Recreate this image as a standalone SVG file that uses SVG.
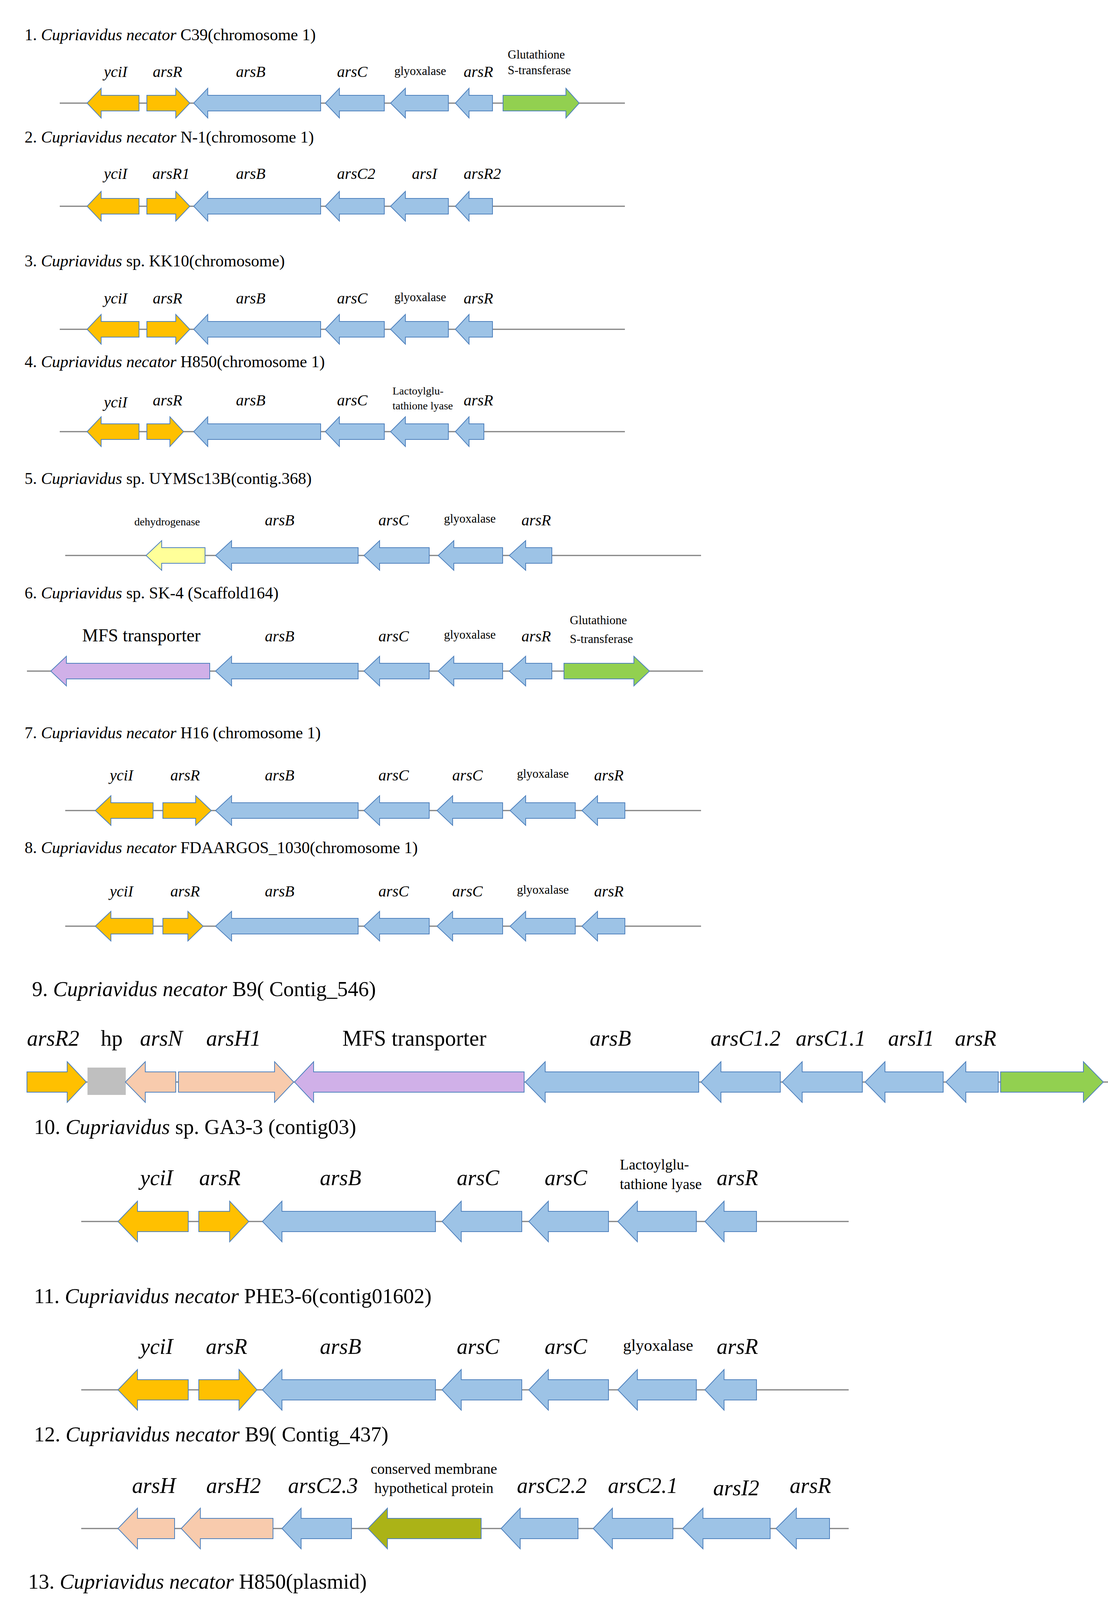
<svg xmlns="http://www.w3.org/2000/svg" width="2837" height="5066" viewBox="0 0 2837 5066">
<style>
text{font-family:"Liberation Serif","Times New Roman",serif;fill:#000}
.t{font-size:42px}.T{font-size:54px}
.i{font-style:italic}
.g{font-size:40px;font-style:italic;text-anchor:middle}
.G{font-size:56px;font-style:italic;text-anchor:middle}
.s{font-size:31px}.S{font-size:42px}
.m{text-anchor:middle}
polygon,rect{stroke:#4F81BD;stroke-width:2}
.o{fill:#FFC000}.b{fill:#9DC3E6}.gr{fill:#92D050}.p{fill:#F8CBAD}.v{fill:#D0B0E8}.y{fill:#FFFF99}.h{fill:#BFBFBF;stroke:#BFBFBF}.r{fill:#D22B5C}.ol{fill:#ABB317}.c{fill:#33F0F0}.cg{fill:#BFC3C5}
.ln{stroke:#808080;stroke-width:3;fill:none}
</style>
<g id="connectors">
<line class="ln" x1="153" y1="264" x2="1600" y2="264"/>
<line class="ln" x1="153" y1="528" x2="1600" y2="528"/>
<line class="ln" x1="153" y1="843" x2="1600" y2="843"/>
<line class="ln" x1="153" y1="1105" x2="1600" y2="1105"/>
<line class="ln" x1="167" y1="1422" x2="1795" y2="1422"/>
<line class="ln" x1="69" y1="1718" x2="1800" y2="1718"/>
<line class="ln" x1="167" y1="2075" x2="1795" y2="2075"/>
<line class="ln" x1="167" y1="2371" x2="1795" y2="2371"/>
<line class="ln" x1="69" y1="2770" x2="2837" y2="2770"/>
<line class="ln" x1="208" y1="3127" x2="2173" y2="3127"/>
<line class="ln" x1="208" y1="3558" x2="2173" y2="3558"/>
<line class="ln" x1="208" y1="3913" x2="2173" y2="3913"/>
<line class="ln" x1="54" y1="4270" x2="2596" y2="4270"/>
<line class="ln" x1="45" y1="4597" x2="2656" y2="4597"/>
<line class="ln" x1="181" y1="4995" x2="2405" y2="4995"/>
</g>

<g id="row1" transform="translate(0,264)">
<text class="t" x="63" y="-161">1. <tspan class="i">Cupriavidus necator</tspan> C39(chromosome 1)</text>
<g id="r1-yciI"><polygon class="o" points="223,0 259,-38 259,-20 356,-20 356,20 259,20 259,38"/><text class="g" x="296" y="-67">yciI</text></g>
<g id="r1-arsR"><polygon class="o" points="376,-20 450,-20 450,-38 486,0 450,38 450,20 376,20"/><text class="g" x="429" y="-67">arsR</text></g>
<g id="r1-arsB"><polygon class="b" points="496,0 532,-38 532,-20 821,-20 821,20 532,20 532,38"/><text class="g" x="642" y="-67">arsB</text></g>
<g id="r1-arsC"><polygon class="b" points="833,0 869,-38 869,-20 984,-20 984,20 869,20 869,38"/><text class="g" x="902" y="-67">arsC</text></g>
<g id="r1-glx"><polygon class="b" points="1000,0 1038,-38 1038,-20 1148,-20 1148,20 1038,20 1038,38"/><text class="s m" x="1076" y="-72">glyoxalase</text></g>
<g id="r1-arsR2"><polygon class="b" points="1166,0 1201,-38 1201,-20 1261,-20 1261,20 1201,20 1201,38"/><text class="g" x="1225" y="-67">arsR</text></g>
<g id="r1-gst"><polygon class="gr" points="1288,-20 1449,-20 1449,-38 1483,0 1449,38 1449,20 1288,20"/><text class="s" x="1300" y="-114">Glutathione</text><text class="s" x="1300" y="-74">S-transferase</text></g>
</g>

<g id="row2" transform="translate(0,528)">
<text class="t" x="63" y="-163">2. <tspan class="i">Cupriavidus necator</tspan> N-1(chromosome 1)</text>
<g id="r2-yciI"><polygon class="o" points="223,0 259,-38 259,-20 356,-20 356,20 259,20 259,38"/><text class="g" x="296" y="-70">yciI</text></g>
<g id="r2-arsR1"><polygon class="o" points="376,-20 450,-20 450,-38 486,0 450,38 450,20 376,20"/><text class="g" x="438" y="-70">arsR1</text></g>
<g id="r2-arsB"><polygon class="b" points="496,0 532,-38 532,-20 821,-20 821,20 532,20 532,38"/><text class="g" x="642" y="-70">arsB</text></g>
<g id="r2-arsC2"><polygon class="b" points="833,0 869,-38 869,-20 984,-20 984,20 869,20 869,38"/><text class="g" x="912" y="-70">arsC2</text></g>
<g id="r2-arsI"><polygon class="b" points="1000,0 1038,-38 1038,-20 1148,-20 1148,20 1038,20 1038,38"/><text class="g" x="1087" y="-70">arsI</text></g>
<g id="r2-arsR2"><polygon class="b" points="1166,0 1201,-38 1201,-20 1261,-20 1261,20 1201,20 1201,38"/><text class="g" x="1235" y="-70">arsR2</text></g>
</g>

<g id="row3" transform="translate(0,843)">
<text class="t" x="63" y="-161">3. <tspan class="i">Cupriavidus</tspan> sp. KK10(chromosome)</text>
<g id="r3-yciI"><polygon class="o" points="223,0 259,-38 259,-20 356,-20 356,20 259,20 259,38"/><text class="g" x="296" y="-66">yciI</text></g>
<g id="r3-arsR"><polygon class="o" points="376,-20 450,-20 450,-38 486,0 450,38 450,20 376,20"/><text class="g" x="429" y="-66">arsR</text></g>
<g id="r3-arsB"><polygon class="b" points="496,0 532,-38 532,-20 821,-20 821,20 532,20 532,38"/><text class="g" x="642" y="-66">arsB</text></g>
<g id="r3-arsC"><polygon class="b" points="833,0 869,-38 869,-20 984,-20 984,20 869,20 869,38"/><text class="g" x="902" y="-66">arsC</text></g>
<g id="r3-glx"><polygon class="b" points="1000,0 1038,-38 1038,-20 1148,-20 1148,20 1038,20 1038,38"/><text class="s m" x="1076" y="-72">glyoxalase</text></g>
<g id="r3-arsR2"><polygon class="b" points="1166,0 1201,-38 1201,-20 1261,-20 1261,20 1201,20 1201,38"/><text class="g" x="1225" y="-66">arsR</text></g>
</g>

<g id="row4" transform="translate(0,1105)">
<text class="t" x="63" y="-165">4. <tspan class="i">Cupriavidus necator</tspan> H850(chromosome 1)</text>
<g id="r4-yciI"><polygon class="o" points="223,0 259,-38 259,-20 356,-20 356,20 259,20 259,38"/><text class="g" x="296" y="-62">yciI</text></g>
<g id="r4-arsR"><polygon class="o" points="376,-20 435,-20 435,-38 470,0 435,38 435,20 376,20"/><text class="g" x="429" y="-67">arsR</text></g>
<g id="r4-arsB"><polygon class="b" points="496,0 532,-38 532,-20 821,-20 821,20 532,20 532,38"/><text class="g" x="642" y="-67">arsB</text></g>
<g id="r4-arsC"><polygon class="b" points="833,0 869,-38 869,-20 984,-20 984,20 869,20 869,38"/><text class="g" x="902" y="-67">arsC</text></g>
<g id="r4-lact"><polygon class="b" points="1000,0 1038,-38 1038,-20 1148,-20 1148,20 1038,20 1038,38"/><text class="s" x="1005" y="-95" style="font-size:28px">Lactoylglu-</text><text class="s" x="1005" y="-57" style="font-size:28px">tathione lyase</text></g>
<g id="r4-arsR2"><polygon class="b" points="1166,0 1201,-38 1201,-20 1239,-20 1239,20 1201,20 1201,38"/><text class="g" x="1225" y="-67">arsR</text></g>
</g>

<g id="row5" transform="translate(0,1422)">
<text class="t" x="63" y="-183">5. <tspan class="i">Cupriavidus</tspan> sp. UYMSc13B(contig.368)</text>
<g id="r5-dh"><polygon class="y" points="374,0 414,-38 414,-20 525,-20 525,20 414,20 414,38"/><text class="s m" x="428" y="-77" style="font-size:28px">dehydrogenase</text></g>
<g id="r5-arsB"><polygon class="b" points="552,0 593,-38 593,-20 917,-20 917,20 593,20 593,38"/><text class="g" x="716" y="-77">arsB</text></g>
<g id="r5-arsC"><polygon class="b" points="932,0 972,-38 972,-20 1099,-20 1099,20 972,20 972,38"/><text class="g" x="1008" y="-77">arsC</text></g>
<g id="r5-glx"><polygon class="b" points="1122,0 1162,-38 1162,-20 1287,-20 1287,20 1162,20 1162,38"/><text class="s m" x="1203" y="-84">glyoxalase</text></g>
<g id="r5-arsR"><polygon class="b" points="1304,0 1346,-38 1346,-20 1413,-20 1413,20 1346,20 1346,38"/><text class="g" x="1373" y="-77">arsR</text></g>
</g>

<g id="row6" transform="translate(0,1718)">
<text class="t" x="63" y="-186">6. <tspan class="i">Cupriavidus</tspan> sp. SK-4 (Scaffold164)</text>
<g id="r6-mfs"><polygon class="v" points="130,0 170,-38 170,-20 537,-20 537,20 170,20 170,38"/><text class="m" x="362" y="-76" style="font-size:46px">MFS transporter</text></g>
<g id="r6-arsB"><polygon class="b" points="552,0 593,-38 593,-20 917,-20 917,20 593,20 593,38"/><text class="g" x="716" y="-76">arsB</text></g>
<g id="r6-arsC"><polygon class="b" points="932,0 972,-38 972,-20 1099,-20 1099,20 972,20 972,38"/><text class="g" x="1008" y="-76">arsC</text></g>
<g id="r6-glx"><polygon class="b" points="1122,0 1162,-38 1162,-20 1287,-20 1287,20 1162,20 1162,38"/><text class="s m" x="1203" y="-83">glyoxalase</text></g>
<g id="r6-arsR"><polygon class="b" points="1304,0 1346,-38 1346,-20 1413,-20 1413,20 1346,20 1346,38"/><text class="g" x="1373" y="-76">arsR</text></g>
<g id="r6-gst"><polygon class="gr" points="1444,-20 1623,-20 1623,-38 1663,0 1623,38 1623,20 1444,20"/><text class="s" x="1459" y="-120">Glutathione</text><text class="s" x="1459" y="-72">S-transferase</text></g>
</g>

<g id="row7" transform="translate(0,2075)">
<text class="t" x="63" y="-185">7. <tspan class="i">Cupriavidus necator</tspan> H16 (chromosome 1)</text>
<g id="r7-yciI"><polygon class="o" points="244,0 284,-38 284,-20 392,-20 392,20 284,20 284,38"/><text class="g" x="311" y="-77">yciI</text></g>
<g id="r7-arsR"><polygon class="o" points="417,-20 501,-20 501,-38 541,0 501,38 501,20 417,20"/><text class="g" x="474" y="-77">arsR</text></g>
<g id="r7-arsB"><polygon class="b" points="552,0 593,-38 593,-20 917,-20 917,20 593,20 593,38"/><text class="g" x="716" y="-77">arsB</text></g>
<g id="r7-arsC"><polygon class="b" points="932,0 972,-38 972,-20 1099,-20 1099,20 972,20 972,38"/><text class="g" x="1008" y="-77">arsC</text></g>
<g id="r7-arsC2"><polygon class="b" points="1119,0 1159,-38 1159,-20 1287,-20 1287,20 1159,20 1159,38"/><text class="g" x="1197" y="-77">arsC</text></g>
<g id="r7-glx"><polygon class="b" points="1306,0 1346,-38 1346,-20 1473,-20 1473,20 1346,20 1346,38"/><text class="s m" x="1390" y="-84">glyoxalase</text></g>
<g id="r7-arsR2"><polygon class="b" points="1490,0 1530,-38 1530,-20 1600,-20 1600,20 1530,20 1530,38"/><text class="g" x="1559" y="-77">arsR</text></g>
</g>

<g id="row8" transform="translate(0,2371)">
<text class="t" x="63" y="-187">8. <tspan class="i">Cupriavidus necator</tspan> FDAARGOS_1030(chromosome 1)</text>
<g id="r8-yciI"><polygon class="o" points="244,0 284,-38 284,-20 392,-20 392,20 284,20 284,38"/><text class="g" x="311" y="-76">yciI</text></g>
<g id="r8-arsR"><polygon class="o" points="417,-20 481,-20 481,-38 520,0 481,38 481,20 417,20"/><text class="g" x="474" y="-76">arsR</text></g>
<g id="r8-arsB"><polygon class="b" points="552,0 593,-38 593,-20 917,-20 917,20 593,20 593,38"/><text class="g" x="716" y="-76">arsB</text></g>
<g id="r8-arsC"><polygon class="b" points="932,0 972,-38 972,-20 1099,-20 1099,20 972,20 972,38"/><text class="g" x="1008" y="-76">arsC</text></g>
<g id="r8-arsC2"><polygon class="b" points="1119,0 1159,-38 1159,-20 1287,-20 1287,20 1159,20 1159,38"/><text class="g" x="1197" y="-76">arsC</text></g>
<g id="r8-glx"><polygon class="b" points="1306,0 1346,-38 1346,-20 1473,-20 1473,20 1346,20 1346,38"/><text class="s m" x="1390" y="-83">glyoxalase</text></g>
<g id="r8-arsR2"><polygon class="b" points="1490,0 1530,-38 1530,-20 1600,-20 1600,20 1530,20 1530,38"/><text class="g" x="1559" y="-76">arsR</text></g>
</g>

<g id="row9" transform="translate(0,2770)">
<text class="T" x="82" y="-220">9. <tspan class="i">Cupriavidus necator</tspan> B9( Contig_546)</text>
<g id="r9-arsR2"><polygon class="o" points="69,-26 172,-26 172,-52 221,0 172,52 172,26 69,26"/><text class="G" x="136" y="-93">arsR2</text></g>
<g id="r9-hp"><rect class="h" x="225" y="-36" width="96" height="68"/><text class="m" x="286" y="-93" style="font-size:56px">hp</text></g>
<g id="r9-arsN"><polygon class="p" points="321,0 372,-52 372,-26 450,-26 450,26 372,26 372,52"/><text class="G" x="413" y="-93">arsN</text></g>
<g id="r9-arsH1"><polygon class="p" points="457,-26 703,-26 703,-52 752,0 703,52 703,26 457,26"/><text class="G" x="598" y="-93">arsH1</text></g>
<g id="r9-mfs"><polygon class="v" points="754,0 803,-52 803,-26 1342,-26 1342,26 803,26 803,52"/><text class="m" x="1061" y="-93" style="font-size:56px">MFS transporter</text></g>
<g id="r9-arsB"><polygon class="b" points="1345,0 1396,-52 1396,-26 1789,-26 1789,26 1396,26 1396,52"/><text class="G" x="1563" y="-93">arsB</text></g>
<g id="r9-arsC12"><polygon class="b" points="1795,0 1846,-52 1846,-26 1998,-26 1998,26 1846,26 1846,52"/><text class="G" x="1909" y="-93">arsC1.2</text></g>
<g id="r9-arsC11"><polygon class="b" points="2003,0 2054,-52 2054,-26 2208,-26 2208,26 2054,26 2054,52"/><text class="G" x="2127" y="-93">arsC1.1</text></g>
<g id="r9-arsI1"><polygon class="b" points="2215,0 2266,-52 2266,-26 2415,-26 2415,26 2266,26 2266,52"/><text class="G" x="2333" y="-93">arsI1</text></g>
<g id="r9-arsR"><polygon class="b" points="2422,0 2473,-52 2473,-26 2556,-26 2556,26 2473,26 2473,52"/><text class="G" x="2498" y="-93">arsR</text></g>
<g id="r9-green"><polygon class="gr" points="2562,-26 2774,-26 2774,-52 2825,0 2774,52 2774,26 2562,26"/></g>
</g>

<g id="row10" transform="translate(0,3127)">
<text class="T" x="87" y="-224">10. <tspan class="i">Cupriavidus</tspan> sp. GA3-3 (contig03)</text>
<g id="r10-yciI"><polygon class="o" points="302,0 352,-52 352,-26 482,-26 482,26 352,26 352,52"/><text class="G" x="401" y="-93">yciI</text></g>
<g id="r10-arsR"><polygon class="o" points="509,-26 588,-26 588,-52 637,0 588,52 588,26 509,26"/><text class="G" x="563" y="-93">arsR</text></g>
<g id="r10-arsB"><polygon class="b" points="672,0 722,-52 722,-26 1115,-26 1115,26 722,26 722,52"/><text class="G" x="872" y="-93">arsB</text></g>
<g id="r10-arsC"><polygon class="b" points="1132,0 1181,-52 1181,-26 1336,-26 1336,26 1181,26 1181,52"/><text class="G" x="1224" y="-93">arsC</text></g>
<g id="r10-arsC2"><polygon class="b" points="1354,0 1404,-52 1404,-26 1558,-26 1558,26 1404,26 1404,52"/><text class="G" x="1449" y="-93">arsC</text></g>
<g id="r10-lact"><polygon class="b" points="1582,0 1632,-52 1632,-26 1783,-26 1783,26 1632,26 1632,52"/><text class="S" x="1587" y="-133" style="font-size:38px">Lactoylglu-</text><text class="S" x="1587" y="-83" style="font-size:38px">tathione lyase</text></g>
<g id="r10-arsR2"><polygon class="b" points="1805,0 1854,-52 1854,-26 1937,-26 1937,26 1854,26 1854,52"/><text class="G" x="1888" y="-93">arsR</text></g>
</g>

<g id="row11" transform="translate(0,3558)">
<text class="T" x="87" y="-222">11. <tspan class="i">Cupriavidus necator</tspan> PHE3-6(contig01602)</text>
<g id="r11-yciI"><polygon class="o" points="302,0 352,-52 352,-26 482,-26 482,26 352,26 352,52"/><text class="G" x="401" y="-92">yciI</text></g>
<g id="r11-arsR"><polygon class="o" points="509,-26 612,-26 612,-52 658,0 612,52 612,26 509,26"/><text class="G" x="580" y="-92">arsR</text></g>
<g id="r11-arsB"><polygon class="b" points="672,0 722,-52 722,-26 1115,-26 1115,26 722,26 722,52"/><text class="G" x="872" y="-92">arsB</text></g>
<g id="r11-arsC"><polygon class="b" points="1132,0 1181,-52 1181,-26 1336,-26 1336,26 1181,26 1181,52"/><text class="G" x="1224" y="-92">arsC</text></g>
<g id="r11-arsC2"><polygon class="b" points="1354,0 1404,-52 1404,-26 1558,-26 1558,26 1404,26 1404,52"/><text class="G" x="1449" y="-92">arsC</text></g>
<g id="r11-glx"><polygon class="b" points="1582,0 1632,-52 1632,-26 1783,-26 1783,26 1632,26 1632,52"/><text class="S m" x="1685" y="-100">glyoxalase</text></g>
<g id="r11-arsR2"><polygon class="b" points="1805,0 1854,-52 1854,-26 1937,-26 1937,26 1854,26 1854,52"/><text class="G" x="1888" y="-92">arsR</text></g>
</g>

<g id="row12" transform="translate(0,3913)">
<text class="T" x="87" y="-223">12. <tspan class="i">Cupriavidus necator</tspan> B9( Contig_437)</text>
<g id="r12-arsH"><polygon class="p" points="302,0 352,-52 352,-26 447,-26 447,26 352,26 352,52"/><text class="G" x="394" y="-91">arsH</text></g>
<g id="r12-arsH2"><polygon class="p" points="464,0 513,-52 513,-26 699,-26 699,26 513,26 513,52"/><text class="G" x="598" y="-91">arsH2</text></g>
<g id="r12-arsC23"><polygon class="b" points="722,0 771,-52 771,-26 900,-26 900,26 771,26 771,52"/><text class="G" x="827" y="-91">arsC2.3</text></g>
<g id="r12-cmhp"><polygon class="ol" points="942,0 992,-52 992,-26 1232,-26 1232,26 992,26 992,52"/><text class="S m" x="1111" y="-140" style="font-size:38px">conserved membrane</text><text class="S m" x="1111" y="-91" style="font-size:38px">hypothetical protein</text></g>
<g id="r12-arsC22"><polygon class="b" points="1283,0 1332,-52 1332,-26 1480,-26 1480,26 1332,26 1332,52"/><text class="G" x="1413" y="-91">arsC2.2</text></g>
<g id="r12-arsC21"><polygon class="b" points="1519,0 1568,-52 1568,-26 1723,-26 1723,26 1568,26 1568,52"/><text class="G" x="1646" y="-91">arsC2.1</text></g>
<g id="r12-arsI2"><polygon class="b" points="1748,0 1800,-52 1800,-26 1972,-26 1972,26 1800,26 1800,52"/><text class="G" x="1885" y="-85">arsI2</text></g>
<g id="r12-arsR"><polygon class="b" points="1987,0 2039,-52 2039,-26 2124,-26 2124,26 2039,26 2039,52"/><text class="G" x="2075" y="-91">arsR</text></g>
</g>

<g id="row13" transform="translate(0,4270)">
<text class="T" x="72" y="-203">13. <tspan class="i">Cupriavidus necator</tspan> H850(plasmid)</text>
<g id="r13-arsH"><polygon class="p" points="73,-26 299,-26 299,-52 341,0 299,52 299,26 73,26"/><text class="G" x="190" y="-85">arsH</text></g>
<g id="r13-aqp"><polygon class="r" points="363,0 408,-52 408,-26 638,-26 638,26 408,26 408,52"/><text class="S" x="390" y="-110" style="font-size:36px">aquaporin</text><text class="S" x="390" y="-62" style="font-size:36px">family protein</text></g>
<g id="r13-arsC"><polygon class="b" points="649,0 698,-52 698,-26 838,-26 838,26 698,26 698,52"/><text class="G" x="743" y="-85">arsC</text></g>
<g id="r13-arsC2"><polygon class="b" points="858,0 906,-52 906,-26 988,-26 988,26 906,26 906,52"/><text class="G" x="925" y="-85">arsC</text></g>
<g id="r13-lact"><polygon class="b" points="1024,0 1070,-52 1070,-26 1206,-26 1206,26 1070,26 1070,52"/><text class="S" x="1015" y="-123" style="font-size:36px">Lactoylglu-</text><text class="S" x="1015" y="-77" style="font-size:36px">tathione lyase</text></g>
<g id="r13-arsR"><polygon class="b" points="1220,0 1265,-52 1265,-26 1345,-26 1345,26 1265,26 1265,52"/><text class="G" x="1305" y="-85">arsR</text></g>
<g id="r13-aoxL"><polygon class="c" points="1365,-26 2257,-26 2257,-52 2302,0 2257,52 2257,26 1365,26"/><text class="m" x="1804" y="-85" style="font-size:52px">Arsenite oxidase large subunit</text></g>
<g id="r13-aoxS"><polygon class="c" points="2324,-26 2475,-26 2475,-52 2520,0 2475,52 2475,26 2324,26"/><text class="S" x="2275" y="-135" style="font-size:40px">Arsenite  oxidase</text><text class="S" x="2275" y="-85" style="font-size:40px">small subunit</text></g>
</g>

<g id="row14" transform="translate(0,4597)">
<text class="T" x="72" y="-205">14. <tspan class="i">Cupriavidus basilensis</tspan> 4G11( chromosome secondary)</text>
<g id="r14-arsR"><polygon class="b" points="58,-26 158,-26 158,-52 203,0 158,52 158,26 58,26"/><text class="G" x="123" y="-84">arsR</text></g>
<g id="r14-aqp"><polygon class="r" points="205,0 250,-52 250,-26 480,-26 480,26 250,26 250,52"/><text class="S" x="232" y="-100" style="font-size:36px">aquaporin</text><text class="S" x="232" y="-57" style="font-size:36px">family protein</text></g>
<g id="r14-arsC"><polygon class="b" points="486,0 531,-52 531,-26 649,-26 649,26 531,26 531,52"/><text class="G" x="584" y="-84">arsC</text></g>
<g id="r14-arsI"><polygon class="b" points="653,0 702,-52 702,-26 838,-26 838,26 702,26 702,52"/><text class="G" x="792" y="-84">arsI</text></g>
<g id="r14-arsR2"><polygon class="b" points="839,0 888,-52 888,-26 1021,-26 1021,26 888,26 888,52"/><text class="G" x="964" y="-84">arsR</text></g>
<g id="r14-chrA"><polygon class="cg" points="1026,-26 1468,-26 1468,-52 1514,0 1468,52 1468,26 1026,26"/><text class="G" x="1238" y="-84">chrA</text></g>
<g id="r14-arsC2"><polygon class="b" points="1517,0 1563,-52 1563,-26 2456,-26 2456,26 1563,26 1563,52"/><text class="G" x="1982" y="-84">arsC</text></g>
<g id="r14-aox"><polygon class="b" points="2456,0 2502,-52 2502,-26 2656,-26 2656,26 2502,26 2502,52"/><text class="S" x="2462" y="-142" style="font-size:36px">Arsenite</text><text class="S" x="2616" y="-142" style="font-size:36px">oxidase</text><text class="S" x="2462" y="-97" style="font-size:36px">small</text><text class="S" x="2620" y="-97" style="font-size:36px">subunit</text><text class="S" x="2462" y="-54" style="font-size:36px">precursor</text></g>
</g>

<g id="row15" transform="translate(0,4995)">
<text class="T" x="74" y="-203">15. <tspan class="i">Cupriavidus basilensis</tspan> UME74 UUME74_39</text>
<g id="r15-arsR"><polygon class="o" points="268,-26 363,-26 363,-52 406,0 363,52 363,26 268,26"/><text class="G" x="330" y="-85">arsR</text></g>
<g id="r15-mfs"><polygon class="v" points="417,0 463,-52 463,-26 902,-26 902,26 463,26 463,52"/><text class="m" x="675" y="-85" style="font-size:52px">MFS transporter</text></g>
<g id="r15-arsB"><polygon class="b" points="913,0 959,-52 959,-26 1322,-26 1322,26 959,26 959,52"/><text class="G" x="1178" y="-85">arsB</text></g>
<g id="r15-arsC"><polygon class="b" points="1342,0 1388,-52 1388,-26 1531,-26 1531,26 1388,26 1388,52"/><text class="G" x="1429" y="-85">arsC</text></g>
<g id="r15-arsC2"><polygon class="b" points="1557,0 1603,-52 1603,-26 1744,-26 1744,26 1603,26 1603,52"/><text class="G" x="1641" y="-85">arsC</text></g>
<g id="r15-glx"><polygon class="b" points="1761,0 1807,-52 1807,-26 1945,-26 1945,26 1807,26 1807,52"/><text class="S m" x="1853" y="-95">glyoxalase</text></g>
<g id="r15-arsR2"><polygon class="b" points="1963,0 2009,-52 2009,-26 2089,-26 2089,26 2009,26 2009,52"/><text class="G" x="2040" y="-85">arsR</text></g>
<g id="r15-arsC3"><polygon class="b" points="2124,0 2170,-52 2170,-26 2298,-26 2298,26 2170,26 2170,52"/><text class="G" x="2201" y="-85">arsC</text></g>
</g>
</svg>
